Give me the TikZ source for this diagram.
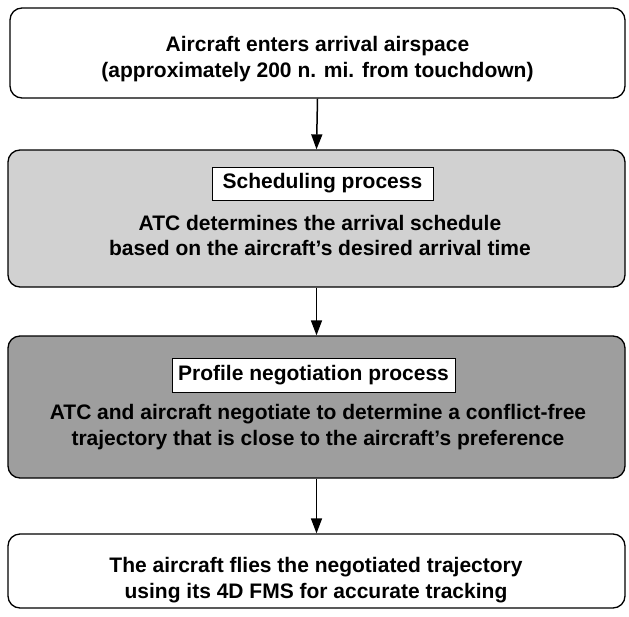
\documentclass[tikz,border=0pt]{standalone}
\usepackage{fontspec}
\setmainfont{Liberation Sans}
\usetikzlibrary{arrows.meta}
\begin{document}
\begin{tikzpicture}[x=1pt,y=-1pt,
  stage/.style={draw=black,line width=1.3pt,rounded corners=12pt,inner sep=0pt},
  tag/.style={draw=black,line width=1pt,fill=white,inner sep=0pt,font=\bfseries\fontsize{21}{24}\selectfont},
  body/.style={align=center,font=\bfseries\fontsize{21}{25.5}\selectfont},
  flow/.style={line width=1.5pt,-{Triangle[width=11pt,length=15pt]}}]
\useasboundingbox (0,0) rectangle (629,616);
\node[stage,minimum width=615pt,minimum height=90pt] (b1) at (317.5,53) {};
\node[body] (t1) at (317.5,59) {Aircraft enters arrival airspace\\(approximately 200 n. mi. from touchdown)};
\node[stage,fill=black!18,minimum width=617pt,minimum height=137pt] (b2) at (316.5,218.5) {};
\node[tag,minimum width=221pt,minimum height=33pt] (l2) at (322.5,183.5) {Scheduling process};
\node[body] (t2) at (320,235.5) {ATC determines the arrival schedule\\based on the aircraft's desired arrival time};
\node[stage,fill=black!38,minimum width=617pt,minimum height=142pt] (b3) at (316.5,407) {};
\node[tag,minimum width=283pt,minimum height=34pt] (l3) at (313.5,375) {Profile negotiation process};
\node[body] (t3) at (318,427) {ATC and aircraft negotiate to determine a conflict-free\\trajectory that is close to the aircraft's preference};
\node[stage,minimum width=617pt,minimum height=74pt] (b4) at (316.5,571) {};
\node[body] (t4) at (316,580) {The aircraft flies the negotiated trajectory\\using its 4D FMS for accurate tracking};
\draw[flow] (b1.south) -- (b2.north);
\draw[flow] (b2.south) -- (b3.north);
\draw[flow] (b3.south) -- (b4.north);
\end{tikzpicture}
\end{document}
